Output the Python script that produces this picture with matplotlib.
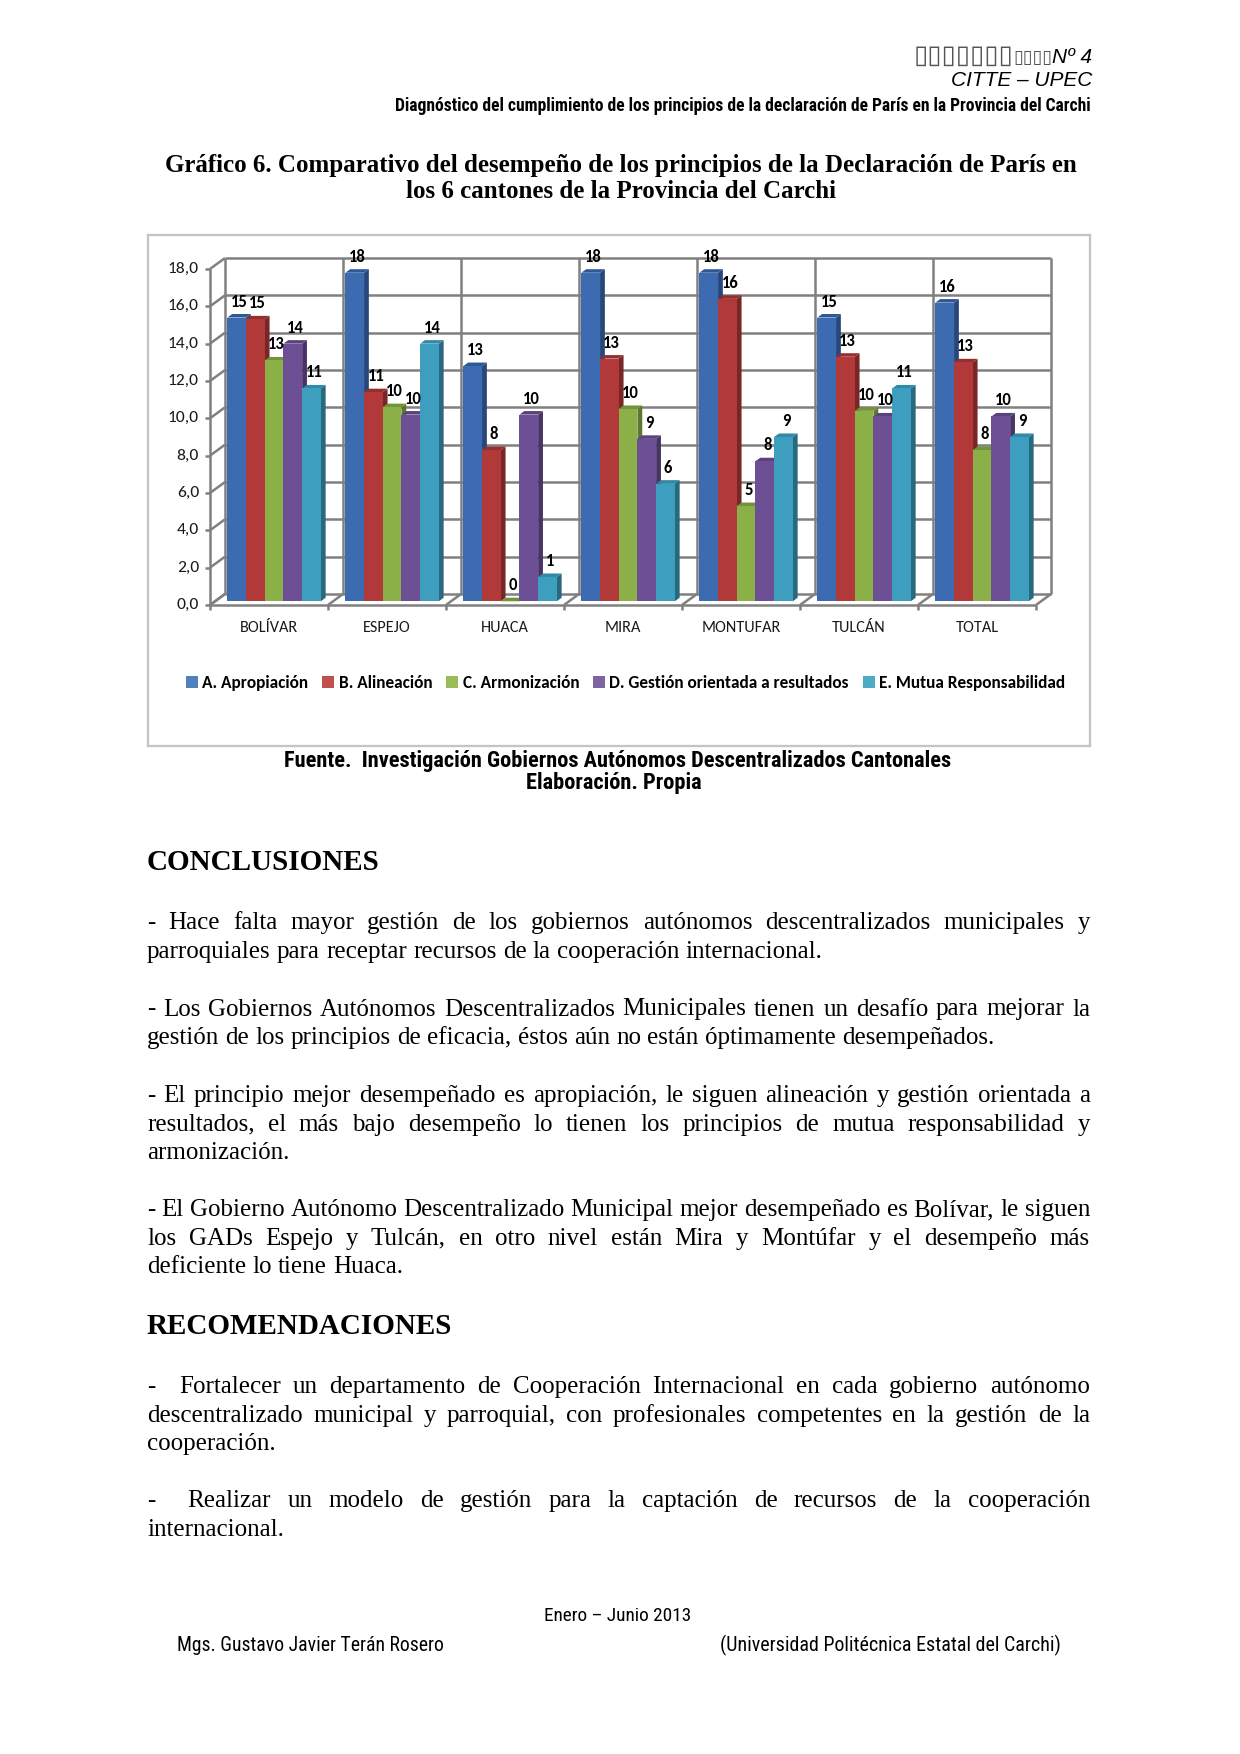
import numpy as np
import matplotlib
matplotlib.use('Agg')
import matplotlib.pyplot as plt
from matplotlib.patches import Polygon, Patch

W, H, DPI = 1240, 1754, 150

# ---- data ----
cantones = ['BOLÍVAR', 'ESPEJO', 'HUACA', 'MIRA', 'MONTUFAR', 'TULCÁN', 'TOTAL']
principios = ['A. Apropiación', 'B. Alineación', 'C. Armonización',
              'D. Gestión orientada a resultados', 'E. Mutua Responsabilidad']
apropiacion = [15.2, 17.6, 12.6, 17.6, 17.6, 15.2, 16.0]
alineacion = [15.1, 11.2, 8.1, 13.0, 16.2, 13.1, 12.8]
armonizacion = [12.9, 10.4, 0.0, 10.3, 5.1, 10.2, 8.1]
gestion = [13.8, 10.0, 10.0, 8.7, 7.5, 9.9, 9.9]
mutua = [11.4, 13.8, 1.3, 6.3, 8.8, 11.4, 8.8]
series = [apropiacion, alineacion, armonizacion, gestion, mutua]
y_ticks = [0, 2, 4, 6, 8, 10, 12, 14, 16, 18]

legend_colors = ['#4F81BD', '#C0504D', '#9BBB59', '#8064A2', '#4BACC6']
front_colors = ['#3D6BB1', '#B23939', '#8CB048', '#6C4F94', '#3D9EBF']
side_colors = ['#27467A', '#782626', '#5C782D', '#473364', '#28697F']
top_colors = ['#2F5896', '#962E2E', '#73933A', '#5A427D', '#3289A6']

CHART_FONT = ['Carlito', 'Lato', 'DejaVu Sans']
SERIF = ['Liberation Serif', 'DejaVu Serif']
NARROW = ['Roboto Condensed', 'Liberation Sans Narrow', 'Roboto', 'DejaVu Sans']

fig = plt.figure(figsize=(W / DPI, H / DPI), dpi=DPI)
renderer = fig.canvas.get_renderer()


def px_text(x, y, s, **kw):
    return fig.text(x / W, 1 - y / H, s, **kw)


def width_of(t):
    return t.get_window_extent(renderer=renderer).width


def fit_text(x, y, s, target, **kw):
    t = px_text(x, y, s, **kw)
    t.set_fontsize(t.get_fontsize() * target / width_of(t))
    return t


# ---- chart geometry (pixels on the page) ----
box = (148, 235, 1090, 746)
wall_x0, cat_px, wall_y0 = 225, 118.0, 594
unit_px = 336 / 18.0
DX = -15 / cat_px
DY = -11 / unit_px

ax = fig.add_axes([box[0] / W, 1 - box[3] / H, (box[2] - box[0]) / W, (box[3] - box[1]) / H])
ax.set_xlim((box[0] - wall_x0) / cat_px, (box[2] - wall_x0) / cat_px)
ax.set_ylim((wall_y0 - box[3]) / unit_px, (wall_y0 - box[1]) / unit_px)
ax.set_xticks([])
ax.set_yticks([])
for sp in ax.spines.values():
    sp.set_color('#C4C4C4')
    sp.set_linewidth(1.1)

ncat = len(cantones)
ymax = y_ticks[-1]
grid_kw = dict(color='#808080', lw=1.2, zorder=1, solid_capstyle='butt')

# back wall, side wall and front axis
for v in y_ticks:
    ax.plot([0, ncat], [v, v], **grid_kw)
    ax.plot([DX, 0], [v + DY, v], **grid_kw)
    ax.plot([DX - 5 / cat_px, DX], [v + DY, v + DY], **grid_kw)
    ax.text(DX - 11 / cat_px, v + DY, f'{v:.1f}'.replace('.', ','), ha='right', va='center',
            fontsize=8.4, family=CHART_FONT, color='#1a1a1a')
for k in range(ncat + 1):
    ax.plot([k, k], [0, ymax], **grid_kw)
    ax.plot([k, k + DX], [0, DY], **grid_kw)
    ax.plot([k + DX, k + DX], [DY, DY - 5 / unit_px], **grid_kw)
ax.plot([DX, DX], [DY, ymax + DY], **grid_kw)
ax.plot([DX, ncat + DX], [DY, DY], **grid_kw)

for k, name in enumerate(cantones):
    ax.text(k + 0.5 + DX, (wall_y0 - 628) / unit_px, name, ha='center', va='center',
            fontsize=7.8, family=CHART_FONT, color='#1a1a1a')

# 3D-looking clustered bars
bw = 18.7 / cat_px
d_front, d_back = 0.66, 0.34


def proj(x, y, d):
    return (x + d * DX, y + d * DY)


z = 2
for i in range(ncat):
    start = i + (1 - len(series) * bw) / 2
    for j, vals in enumerate(series):
        v = vals[i]
        l, r = start + j * bw, start + (j + 1) * bw
        front = [proj(l, 0, d_front), proj(r, 0, d_front), proj(r, v, d_front), proj(l, v, d_front)]
        side = [proj(r, 0, d_front), proj(r, 0, d_back), proj(r, v, d_back), proj(r, v, d_front)]
        top = [proj(l, v, d_front), proj(r, v, d_front), proj(r, v, d_back), proj(l, v, d_back)]
        ax.add_patch(Polygon(side, closed=True, fc=side_colors[j], ec='none', zorder=z))
        ax.add_patch(Polygon(top, closed=True, fc=top_colors[j], ec='none', zorder=z))
        ax.add_patch(Polygon(front, closed=True, fc=front_colors[j], ec='none', zorder=z))
        z += 1
        cx = (l + r) / 2 + (d_front + d_back) / 2 * DX
        ax.text(cx, v + d_front * DY + 16 / unit_px, f'{v:.0f}', ha='center', va='center',
                fontsize=8, fontweight='bold', family=CHART_FONT, color='black', zorder=200)

handles = [Patch(fc=c, ec='none', label=n) for c, n in zip(legend_colors, principios)]
ax.legend(handles=handles, ncol=5, loc='center', bbox_to_anchor=(0.507, 0.123),
          frameon=False, handlelength=0.7, handleheight=0.7, handletextpad=0.25,
          columnspacing=0.8, prop=dict(family=CHART_FONT, weight='bold', size=8.3))

# ---- header ----
n4 = px_text(1092, 63, 'Nº 4', ha='right', va='baseline', fontsize=10, style='italic',
             family=['Liberation Sans', 'DejaVu Sans'])
w1 = width_of(n4)
small = px_text(1092 - w1, 63, '▯▯▯▯', ha='right', va='baseline', fontsize=8.5, style='italic',
                family=['DejaVu Sans'], color='#555555')
w2 = width_of(small)
px_text(1092 - w1 - w2, 63, '▯▯▯▯▯▯▯', ha='right', va='baseline', fontsize=12.5, style='italic',
        family=['DejaVu Sans'], color='#555555')
px_text(1092, 86, 'CITTE – UPEC', ha='right', va='baseline', fontsize=10, style='italic',
        family=['Liberation Sans', 'DejaVu Sans'])
fit_text(1091, 111, 'Diagnóstico del cumplimiento de los principios de la declaración de París en la Provincia del Carchi',
         699, ha='right', va='baseline', fontsize=9, fontweight='bold', family=NARROW)

# ---- chart title and source ----
px_text(621, 172, 'Gráfico 6. Comparativo del desempeño de los principios de la Declaración de París en',
        ha='center', va='baseline', fontsize=12, fontweight='bold', family=SERIF)
px_text(621, 198, 'los 6 cantones de la Provincia del Carchi',
        ha='center', va='baseline', fontsize=12, fontweight='bold', family=SERIF)
fit_text(618, 767, 'Fuente.  Investigación Gobiernos Autónomos Descentralizados Cantonales', 668,
         ha='center', va='baseline', fontsize=9, fontweight='bold', family=NARROW)
fit_text(614, 789, 'Elaboración. Propia', 176,
         ha='center', va='baseline', fontsize=9, fontweight='bold', family=NARROW)

# ---- body text (justified) ----
BODY = dict(fontsize=12, family=SERIF, va='baseline', color='black')
x_left, x_right, pitch = 147, 1090, 28.6
m1 = px_text(0, 500, 'a a', **BODY)
m2 = px_text(0, 500, 'aa', **BODY)
space_w = width_of(m1) - width_of(m2)
m1.remove()
m2.remove()


def paragraph(lines, y0):
    for i, line in enumerate(lines):
        y = y0 + i * pitch
        # split on single spaces so a double space stretches twice, like Word does
        words = line.split(' ')
        texts = [px_text(0, y, w, **BODY) if w else None for w in words]
        widths = [width_of(t) if t is not None else 0.0 for t in texts]
        if i == len(lines) - 1 or len(words) == 1:
            gap = space_w
        else:
            gap = (x_right - x_left - sum(widths)) / (len(words) - 1)
        x = x_left
        for t, w in zip(texts, widths):
            if t is not None:
                t.set_x(x / W)
            x += w + gap


px_text(x_left, 870, 'CONCLUSIONES', ha='left', va='baseline', fontsize=14, fontweight='bold', family=SERIF)
paragraph(['- Hace falta mayor gestión de los gobiernos autónomos descentralizados municipales y',
           'parroquiales para receptar recursos de la cooperación internacional.'], 929)
paragraph(['- Los Gobiernos Autónomos Descentralizados Municipales tienen un desafío para mejorar la',
           'gestión de los principios de eficacia, éstos aún no están óptimamente desempeñados.'], 1015.5)
paragraph(['- El principio mejor desempeñado es apropiación, le siguen alineación y gestión orientada a',
           'resultados, el más bajo desempeño lo tienen los principios de mutua responsabilidad y',
           'armonización.'], 1102)
paragraph(['- El Gobierno Autónomo Descentralizado Municipal mejor desempeñado es Bolívar, le siguen',
           'los GADs Espejo y Tulcán, en otro nivel están Mira y Montúfar y el desempeño más',
           'deficiente lo tiene Huaca.'], 1216)
px_text(x_left, 1334, 'RECOMENDACIONES', ha='left', va='baseline', fontsize=14, fontweight='bold', family=SERIF)
paragraph(['-  Fortalecer un departamento de Cooperación Internacional en cada gobierno autónomo',
           'descentralizado municipal y parroquial, con profesionales competentes en la gestión de la',
           'cooperación.'], 1393)
paragraph(['-  Realizar un modelo de gestión para la captación de recursos de la cooperación',
           'internacional.'], 1507)

# ---- footer ----
fit_text(618, 1621, 'Enero – Junio 2013', 148, ha='center', va='baseline', fontsize=11, family=NARROW)
fit_text(177, 1651, 'Mgs. Gustavo Javier Terán Rosero', 268, ha='left', va='baseline', fontsize=11, family=NARROW)
fit_text(1061, 1651, '(Universidad Politécnica Estatal del Carchi)', 340, ha='right', va='baseline',
         fontsize=11, family=NARROW)

fig.savefig('out.png', dpi=DPI, facecolor='white')
